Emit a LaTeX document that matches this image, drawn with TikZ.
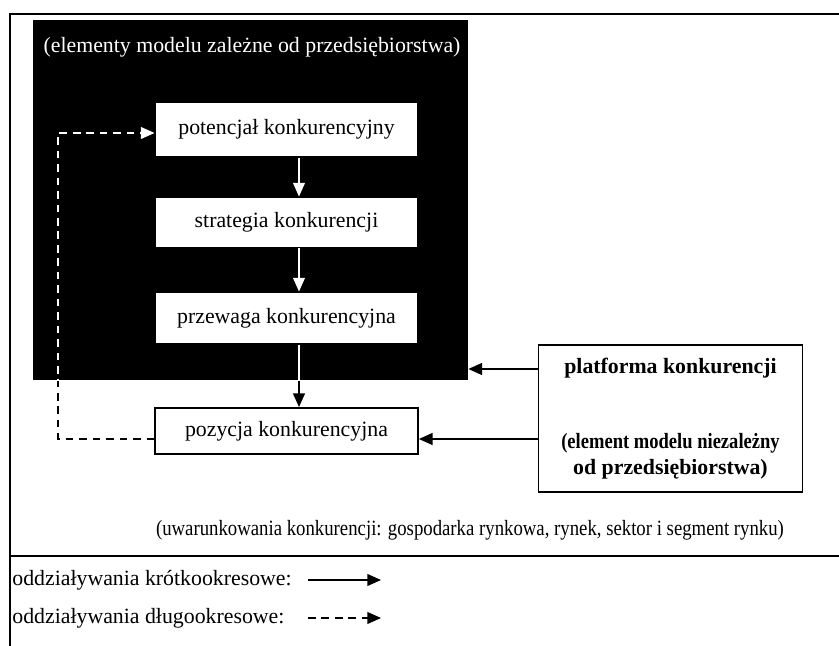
\documentclass[tikz,border=0pt]{standalone}
\usepackage{fontspec}
\setmainfont{Liberation Serif}
\usetikzlibrary{arrows.meta}
\begin{document}
\begin{tikzpicture}[x=0.55pt,y=-0.55pt,
  every node/.style={font=\fontsize{12pt}{14pt}\selectfont},
  wbox/.style={draw=black,fill=white,line width=0.6pt,minimum width=144.6pt,inner sep=0pt},
  frameline/.style={line width=1.1pt},
  conn/.style={line width=0.8pt,-{Triangle[length=7.5pt,width=6.5pt]}},
  longdash/.style={dash pattern=on 4.2pt off 3.2pt}]
\useasboundingbox (0,0) rectangle (839,646);
% outer frame
\draw[frameline] (839,14) -- (10,14) -- (10,646);
\draw[frameline] (10,556) -- (839,556);
% black area
\node[fill=black,minimum width=239.25pt,minimum height=198pt,inner sep=0pt] (firm) at (250.5,200) {};
\node[text=white] (ftitle) at (252,47) {(elementy modelu zależne od przedsiębiorstwa)};
% boxes
\node[wbox,minimum height=30.25pt] (pot) at (286.5,129.5) {potencjał konkurencyjny};
\node[wbox,minimum height=28pt] (str) at (286.5,222.5) {strategia konkurencji};
\node[wbox,minimum height=28.6pt] (prz) at (286.5,318) {przewaga konkurencyjna};
\node[wbox,line width=1pt,minimum height=25.3pt] (poz) at (286.5,431) {pozycja konkurencyjna};
\node[draw,line width=1pt,minimum width=145.2pt,minimum height=80.85pt,inner sep=0pt,align=center,font=\fontsize{12pt}{14pt}\selectfont\bfseries] (plat) at (670.5,418.5)
  {platforma konkurencji\\[27.5pt]\scalebox{0.85}[1]{(element modelu niezależny}\\od przedsiębiorstwa)};
\node (cond) at (470,530) {\scalebox{0.86}[1]{(uwarunkowania konkurencji: gospodarka rynkowa, rynek, sektor i segment rynku)}};
% helper coordinates
\coordinate (ax) at (299,0);
\coordinate (yu) at (0,369);
\coordinate (yl) at (0,439);
\coordinate (dl) at (58,439);
\coordinate (du) at (58,133);
% white arrows inside black area
\draw[conn,white] (pot.south -| ax) -- (str.north -| ax);
\draw[conn,white] (str.south -| ax) -- (prz.north -| ax);
% arrow przewaga -> pozycja (white inside black, black outside)
\draw[conn,black] (prz.south -| ax) -- (poz.north -| ax);
\begin{scope}
\clip (firm.north west) rectangle (firm.south east);
\draw[line width=0.8pt,white] (prz.south -| ax) -- (poz.north -| ax);
\end{scope}
% dashed long-term feedback
\draw[conn,longdash,black] (poz.west |- yl) -- (dl) -- (du) -- (pot.west |- du);
\begin{scope}
\clip (firm.north west) rectangle (firm.south east);
\draw[conn,longdash,white] (poz.west |- yl) -- (dl) -- (du) -- (pot.west |- du);
\end{scope}
% platform arrows
\draw[conn] (plat.west |- yu) -- (firm.east |- yu);
\draw[conn] (plat.west |- yl) -- (poz.east |- yl);
% legend
\node[anchor=west,inner sep=0pt] (l1) at (12,580) {oddziaływania krótkookresowe:};
\node[anchor=west,inner sep=0pt] (l2) at (12,618) {oddziaływania długookresowe:};
\coordinate (s1) at (308,580);
\coordinate (e1) at (381,580);
\coordinate (s2) at (308,618);
\coordinate (e2) at (381,618);
\draw[conn] (s1) -- (e1);
\draw[conn,longdash] (s2) -- (e2);
\end{tikzpicture}
\end{document}
